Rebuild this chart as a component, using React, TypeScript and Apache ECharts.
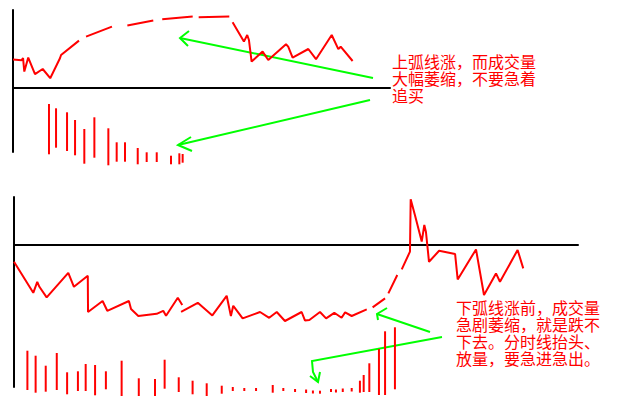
import React, { useEffect, useRef } from "react";
import * as echarts from "echarts";

// ---- upper panel: intraday price (% change vs. previous close), minutes since open ----
const topTime = [
  0, 5.5, 6.4, 7.2, 9.7, 14.0, 18.9, 23.7, 29.9, 30.6,
  42.0, 44, 46.5, 63.0, 68, 72.8, 89.3, 92, 95.0, 114.4,
  116, 118.2, 137.7, 139, 139.8, 147.0, 149.1, 150.2, 151.9, 158.9,
  162.5, 173.8, 175.2, 178.0, 188.0, 192.9, 202.9, 207.1, 208.6, 216.2,
];
const topPrice = [
  1.42, 1.39, 1.49, 0.82, 1.52, 0.69, 0.95, 0.49, 1.49, 1.65,
  2.37, null, 2.57, 3.07, null, 3.12, 3.37, null, 3.44, 3.57,
  null, 3.54, 3.57, null, 3.29, 2.32, 2.65, 2.4, 1.32, 1.82,
  1.4, 2.19, 2.07, 1.52, 1.95, 1.44, 2.65, 1.94, 2.07, 1.35,
];

// upper panel volume sticks: time, floor level, stick length
const topVolTime = [22.9, 27.4, 34.4, 39.5, 45.4, 51.8, 60.7, 66.0, 71.3, 79.4, 85.1, 91.5, 100.6, 105.9, 108.0];
const topVolLow = [11.7, 18.3, 15, 10.7, 2.3, 8.3, 0.7, 4.3, 4.3, 1.7, 4, 4, 1.7, 1.7, 3.3];
const topVolAmt = [48.3, 37.4, 36.7, 33.3, 32.7, 38.4, 35, 17.4, 17.4, 14.3, 7.7, 7.7, 6.6, 9, 6.7];

// ---- lower panel ----
const botTime = [
  0, 8.2, 9.9, 10.8, 13.9, 23.1, 25.5, 31.4, 31.5, 37.7,
  39.7, 48.9, 49.8, 52.9, 60.7, 63.5, 64.7, 69.7, 71.6, 71.4,
  71.1, 78.2, 84.4, 90.5, 92.3, 93.3, 97.3, 104.7, 108.6, 111.8,
  115.3, 122.4, 123.8, 125.7, 130.2, 132.8, 136.3, 139.4, 140.9, 143.7,
  150.1, 151.3, 152.6, 157.9, 158.6, 159.3, 163.1, 164, 165.0, 168.5,
  168.8, 170.6, 173.5, 174.6, 175.3, 176.6, 180.9, 187.7, 188.8, 196.6,
  200, 205.1, 206.8, 214.3, 216.7,
];
const botPrice = [
  -0.84, -2.39, -1.84, -2.09, -2.62, -1.39, -2.09, -1.54, -3.35, -2.8,
  -3.29, -2.8, -3.2, -3.55, -3.44, -3.29, -3.54, -2.64, -3.0, null,
  -3.34, -2.89, -3.52, -2.54, -3.55, -3.04, -3.67, -3.35, -3.64, -3.35,
  -3.8, -3.35, -3.77, -3.75, -3.35, -3.67, -3.39, -3.64, -3.37, -3.55,
  -3.22, null, -3.12, -2.67, null, -2.42, -1.5, null, -1.22, -0.33,
  2.29, 1.5, 0.17, 1.0, 0.65, -0.84, -0.29, -0.45, -1.72, -0.22,
  -2.5, -1.42, -1.84, -0.25, -1.17,
];

const botVolTime = [
  5.7, 9.2, 13.5, 18.2, 22.6, 27.2, 30.5, 34.5, 39.1, 45.8,
  53.1, 60, 64.1, 70.1, 76.0, 82.0, 88.4, 93.1, 98.0, 103.0,
  110.1, 114.6, 119.6, 124.3, 127.2, 130.2, 134.9, 137.0, 139.9, 143.7,
  147.2, 148.8, 151.2, 155.3, 157.9, 162.1,
];
const botVolLow = [
  11, 8.3, 9.3, 11, 6.7, 10, 10, 5.7, 11.7, 5,
  5, 5, 12.3, 9, 6.7, 5, 7.3, 10, 10, 10,
  8.3, 10, 9, 8, 7.5, 7.3, 9, 8.5, 9, 9.5,
  8.3, 9, 9, 6, 6, 11.7,
];
const botVolAmt = [
  37.3, 35, 24, 35, 20, 17.7, 25, 28.3, 16, 33.3,
  15.7, 15, 27, 12.7, 11.6, 10.7, 6, 2, 1, 1,
  5.7, 1, 1, 1.5, 1, 1, 1, 1, 1.5, 1.5,
  10, 15, 26.7, 44, 61.7, 60,
];

const topNote = "上弧线涨，而成交量\n大幅萎缩，不要急着\n追买";
const botNote = "下弧线涨前，成交量\n急剧萎缩，就是跌不\n下去。分时线抬头、\n放量，要急进急出。";

const RED = "#ff0000";
const GREEN = "#00ff00";
const CJK = '"Noto Sans CJK SC", sans-serif';

const pairs = (t: number[], v: (number | null)[]) =>
  t.map((x, i) => [x, v[i] === null ? "-" : v[i]]);
const triples = (t: number[], lo: number[], amt: number[]) =>
  t.map((x, i) => [x, lo[i], amt[i]]);

const stickItem = (_p: any, api: any) => {
  const x = api.value(0);
  const lo = api.value(1);
  const amt = api.value(2);
  const a = api.coord([x, lo]);
  const b = api.coord([x, lo + amt]);
  return {
    type: "line",
    shape: { x1: a[0], y1: a[1], x2: b[0], y2: b[1] },
    style: { stroke: RED, lineWidth: 2, lineCap: "square" },
  };
};

const hidden = { show: false };
const axisLine = { show: true, lineStyle: { color: "#000", width: 2 } };

const note = (text: string, x: number, y: number) => ({
  type: "text",
  x,
  y,
  silent: true,
  style: {
    text,
    fill: RED,
    fontSize: 16,
    fontFamily: CJK,
    lineHeight: 17,
    verticalAlign: "top",
  },
});

export default function App() {
  const ref = useRef<HTMLDivElement>(null);

  useEffect(() => {
    if (!ref.current) return;
    const chart = echarts.init(ref.current, null, { renderer: "svg" });

    const timeAxis = (gridIndex: number, showLine: boolean) => ({
      type: "value",
      gridIndex,
      min: 0,
      max: 240,
      axisLine: showLine ? { ...axisLine, onZero: true } : hidden,
      axisTick: hidden,
      axisLabel: hidden,
      splitLine: hidden,
    });
    const valAxis = (gridIndex: number, min: number, max: number, showLine: boolean) => ({
      type: "value",
      gridIndex,
      min,
      max,
      axisLine: showLine ? axisLine : hidden,
      axisTick: hidden,
      axisLabel: hidden,
      splitLine: hidden,
    });

    const arrow = (pts: number[][]) => ({
      type: "polyline",
      shape: { points: pts },
      style: { stroke: GREEN, lineWidth: 2, fill: null },
      silent: true,
    });

    chart.setOption({
      animation: false,
      backgroundColor: "#ffffff",
      grid: [
        { left: 13, top: 10, width: 377, height: 142 },
        { left: 13, top: 95, width: 377, height: 70 },
        { left: 14, top: 197, width: 564, height: 190 },
        { left: 14, top: 320, width: 564, height: 80 },
      ],
      xAxis: [timeAxis(0, true), timeAxis(1, false), timeAxis(2, true), timeAxis(3, false)],
      yAxis: [
        valAxis(0, -3.2, 3.9, true),
        valAxis(1, 0, 70, false),
        valAxis(2, -7.1, 2.4, true),
        valAxis(3, 0, 80, false),
      ],
      series: [
        {
          type: "line",
          xAxisIndex: 0,
          yAxisIndex: 0,
          data: pairs(topTime, topPrice),
          showSymbol: false,
          connectNulls: false,
          lineStyle: { color: RED, width: 2 },
        },
        {
          type: "custom",
          xAxisIndex: 1,
          yAxisIndex: 1,
          data: triples(topVolTime, topVolLow, topVolAmt),
          renderItem: stickItem,
        },
        {
          type: "line",
          xAxisIndex: 2,
          yAxisIndex: 2,
          data: pairs(botTime, botPrice),
          showSymbol: false,
          connectNulls: false,
          lineStyle: { color: RED, width: 2 },
        },
        {
          type: "custom",
          xAxisIndex: 3,
          yAxisIndex: 3,
          data: triples(botVolTime, botVolLow, botVolAmt),
          renderItem: stickItem,
        },
      ],
      graphic: [
        arrow([[373, 78], [180, 38]]),
        arrow([[189, 31], [180, 38], [188, 46]]),
        arrow([[370, 100], [178, 145]]),
        arrow([[191, 137], [178, 145], [192, 151]]),
        arrow([[430, 332], [377, 314]]),
        arrow([[387, 308], [377, 314], [378, 320]]),
        arrow([[442, 337], [312, 361], [313, 372], [318, 382]]),
        arrow([[310, 376], [318, 382], [320, 372]]),
        note(topNote, 392, 52),
        note(botNote, 456, 298),
      ],
    });

    return () => chart.dispose();
  }, []);

  return (
    <div
      ref={ref}
      style={{ position: "fixed", left: 0, top: 0, width: 640, height: 400, background: "#fff" }}
    />
  );
}
